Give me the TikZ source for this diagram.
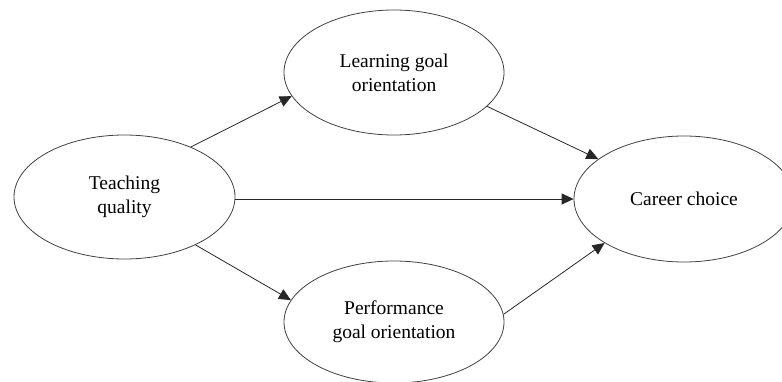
\documentclass[tikz,border=0pt]{standalone}
\usepackage{fontspec}
\setmainfont{Liberation Serif}
\usetikzlibrary{shapes.geometric,arrows.meta}
\begin{document}
\begin{tikzpicture}[x=1pt,y=-1pt,
  construct/.style={draw=black!75,line width=0.8pt,ellipse,inner sep=0pt,align=center,
    font=\rmfamily\fontsize{19.5}{24}\selectfont},
  path/.style={draw=black!85,line width=0.8pt,-{Triangle[length=12pt,width=11pt]}}]
\useasboundingbox (0,0) rectangle (782,382);
\node[construct,minimum width=221pt,minimum height=124pt] (tq) at (124.5,197) {Teaching\\quality};
\node[construct,minimum width=220pt,minimum height=125pt] (lg) at (394,72.5) {Learning goal\\orientation};
\node[construct,minimum width=220pt,minimum height=122pt] (pg) at (394,322) {Performance\\goal orientation};
\node[construct,minimum width=220pt,minimum height=126pt] (cc) at (684,199) {Career choice};
\draw[path] (tq.37) -- (lg.193);
\draw[path] (cc.west -| tq.east) -- (cc.west);
\draw[path] (tq.-34.6) -- (pg.168);
\draw[path] (lg.-20.4) -- (cc.155.6);
\draw[path] (pg.4.6) -- (cc.209.1);
\end{tikzpicture}
\end{document}
